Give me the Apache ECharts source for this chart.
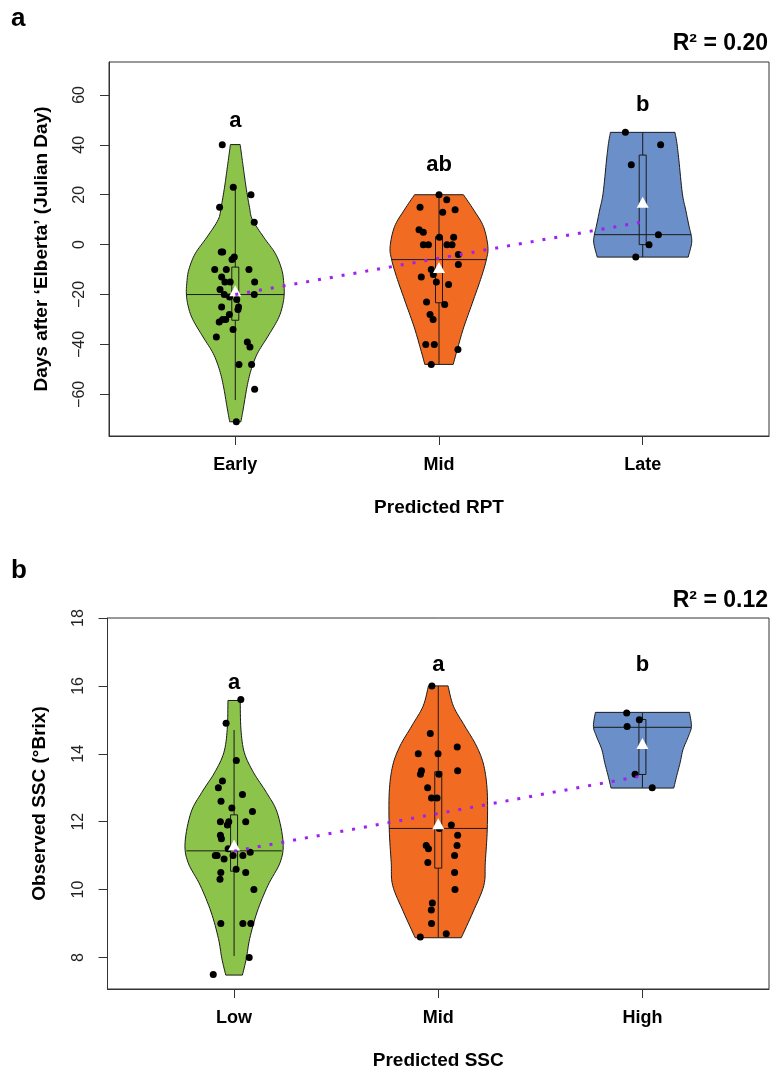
<!DOCTYPE html>
<html>
<head>
<meta charset="utf-8">
<script src="https://cdn.jsdelivr.net/npm/echarts@6/dist/echarts.min.js"></script>
<style>
  html, body { margin: 0; padding: 0; background: #fff; }
  #main { width: 771px; height: 1071px; }
</style>
</head>
<body>
<div id="main"></div>
<script>
// ---- panel a : Predicted RPT ----
var catsA = ['Early', 'Mid', 'Late'];
var ticksA = [-60, -40, -20, 0, 20, 40, 60];

var earlyVals = [40, 23, 20, 15, 9, -3, -3, -6, -5, -10, -10, -10, -13, -15, -15, -15, -18, -20, -21, -20, -22, -25, -25, -26, -28, -30, -30, -31, -34, -37, -39, -41, -48, -48, -58, -71];
var earlyJit = [-0.064, -0.010, 0.077, -0.077, 0.093, -0.069, -0.062, -0.016, -0.005, -0.101, -0.044, 0.067, -0.067, -0.051, -0.025, 0.095, -0.075, -0.054, -0.028, 0.093, 0.007, -0.067, 0.016, 0.013, -0.029, -0.047, -0.062, -0.079, -0.011, -0.093, 0.059, 0.072, 0.018, 0.080, 0.095, 0.005];
var midAVals = [20, 18, 15, 14, 13, 6, 5, 3, 3, 0, 0, 0, 0, -4, -8, -10, -12, -13, -15, -16, -23, -24, -28, -30, -40, -40, -42, -48];
var midAJit = [0, 0.038, -0.093, 0.079, 0.018, -0.098, -0.077, 0.002, 0.072, -0.077, -0.052, 0.039, 0.064, 0.095, 0.095, -0.038, -0.028, -0.087, -0.013, 0.047, -0.061, 0.028, -0.044, -0.029, -0.065, -0.023, 0.093, -0.038];
var lateVals = [45, 40, 32, 4, 0, -5];
var lateJit = [-0.085, 0.088, -0.056, 0.077, 0.031, -0.034];

// violin outlines: value levels and relative density (1 = widest)
var earlyDensV = [40.1, 35, 30, 23, 15, 10, 3, -3.6, -10, -15, -20, -25, -30, -37, -43.7, -50.4, -57, -65, -71];
var earlyDensW = [0.10, 0.135, 0.17, 0.22, 0.29, 0.35, 0.58, 0.82, 0.95, 0.99, 1.0, 0.96, 0.87, 0.66, 0.45, 0.32, 0.24, 0.17, 0.115];
var midADensV = [20, 13.9, 7.2, -0.8, -5.9, -12.8, -23.5, -32.9, -40.9, -48];
var midADensW = [0.50, 0.71, 0.91, 1.0, 0.97, 0.87, 0.68, 0.51, 0.39, 0.29];
var lateDensV = [45, 40.6, 33.9, 20.6, 13.9, 7.2, 3.9, 0.5, -5];
var lateDensW = [0.66, 0.70, 0.74, 0.81, 0.88, 0.95, 0.99, 1.0, 0.93];

var aMed = [-20, -6, 4];
var aQ1 = [-30.3, -23.3, 0];
var aQ3 = [-9, 3.2, 35.9];
var aLo = [-62.3, -48, -5];
var aHi = [23.2, 20, 45];
var aMean = [-18.5, -9.2, 17];
var aLetters = ['a', 'ab', 'b'];
var aLetterY = [49.5, 32, 56];
var aReg = [-20, 9.1];

// ---- panel b : Predicted SSC ----
var catsB = ['Low', 'Mid', 'High'];
var ticksB = [8, 10, 12, 14, 16, 18];

var lowVals = [15.6, 14.9, 13.8, 13.2, 13.0, 12.8, 12.6, 12.4, 12.3, 12.0, 11.9, 12.0, 12.0, 11.6, 11.5, 11.2, 11.1, 11.0, 11.0, 10.9, 11.0, 11.0, 10.5, 10.6, 10.5, 10.3, 10.0, 9.0, 9.0, 9.0, 8.0, 7.5];
var lowJit = [0.033, -0.039, 0.011, -0.057, -0.077, 0.041, -0.064, -0.011, 0.090, -0.067, -0.033, -0.026, 0.057, -0.067, -0.062, -0.029, 0.079, -0.092, -0.083, -0.049, -0.005, 0.043, -0.065, 0.010, 0.057, -0.069, 0.097, -0.065, 0.043, 0.082, 0.074, -0.102];
var midBVals = [16.0, 14.6, 14.0, 14.0, 14.2, 13.5, 13.4, 13.4, 13.5, 13.0, 12.7, 12.7, 11.9, 11.8, 11.6, 11.3, 11.2, 11.3, 11.0, 10.8, 10.5, 10.0, 9.6, 9.4, 9.0, 8.7, 8.6];
var midBJit = [-0.031, -0.039, -0.098, -0.001, 0.093, -0.082, -0.087, 0.003, 0.095, -0.052, -0.033, -0.006, 0.064, 0.005, 0.095, -0.059, -0.048, 0.092, 0.080, -0.051, 0.080, 0.082, -0.029, -0.034, -0.033, 0.039, -0.088];
var highVals = [15.2, 15.0, 14.8, 13.4, 13.0];
var highJit = [-0.077, -0.015, -0.075, -0.036, 0.048];

var lowDensV = [15.57, 14.72, 14.03, 13.44, 12.86, 12.27, 11.39, 10.80, 10.12, 9.34, 8.56, 7.97, 7.48];
var lowDensW = [0.125, 0.14, 0.21, 0.40, 0.66, 0.88, 1.0, 0.94, 0.69, 0.47, 0.32, 0.25, 0.17];
var midBDensV = [16, 15.4, 14.82, 14.23, 13.65, 12.87, 11.78, 10.80, 10.12, 9.34, 8.58];
var midBDensW = [0.20, 0.31, 0.54, 0.78, 0.93, 1.0, 1.0, 0.96, 0.93, 0.71, 0.47];
var highDensV = [15.22, 14.81, 14.52, 14.13, 13.74, 13.35, 12.99];
var highDensW = [0.96, 1.0, 0.94, 0.83, 0.77, 0.70, 0.64];

var bMed = [11.14, 11.8, 14.78];
var bQ1 = [10.54, 10.63, 13.39];
var bQ3 = [12.2, 13.47, 15.01];
var bLo = [8.04, 8.6, 13.0];
var bHi = [14.7, 16.0, 15.2];
var bMean = [11.31, 11.94, 14.3];
var bLetters = ['a', 'a', 'b'];
var bLetterY = [16.1, 16.62, 16.62];
var bReg = [11.13, 13.35];

var fillColors = ['#8CC34B', '#F26B23', '#6A8FC9'];
var HALF = 0.24;   // widest violin half-width, x units
var BOXW = 7;      // box width, px
var FONT = '"Liberation Sans", Arial, sans-serif';

function toPoints(vals, jit, g) {
  var out = [];
  for (var k = 0; k < vals.length; k++) out.push([g + jit[k], vals[k]]);
  return out;
}

// catmull-rom through the outline knots
function smoothLine(pts) {
  var out = [];
  var n = pts.length;
  for (var k = 0; k < n - 1; k++) {
    var p0 = pts[Math.max(k - 1, 0)], p1 = pts[k], p2 = pts[k + 1], p3 = pts[Math.min(k + 2, n - 1)];
    for (var s = 0; s < 8; s++) {
      var t = s / 8, t2 = t * t, t3 = t2 * t;
      out.push([
        0.5 * (2 * p1[0] + (-p0[0] + p2[0]) * t + (2 * p0[0] - 5 * p1[0] + 4 * p2[0] - p3[0]) * t2 + (-p0[0] + 3 * p1[0] - 3 * p2[0] + p3[0]) * t3),
        0.5 * (2 * p1[1] + (-p0[1] + p2[1]) * t + (2 * p0[1] - 5 * p1[1] + 4 * p2[1] - p3[1]) * t2 + (-p0[1] + 3 * p1[1] - 3 * p2[1] + p3[1]) * t3)
      ]);
    }
  }
  out.push(pts[n - 1]);
  return out;
}

function widthAt(dv, dw, v) {
  for (var k = 0; k < dv.length - 1; k++) {
    if (v <= dv[k] && v >= dv[k + 1]) {
      var f = (dv[k] - v) / (dv[k] - dv[k + 1]);
      return dw[k] + f * (dw[k + 1] - dw[k]);
    }
  }
  return dw[dw.length - 1];
}

function violinRender(p) {
  return function (params, api) {
    var g = api.value(0), i = g - 1;
    var dv = p.dens[i][0], dw = p.dens[i][1];
    var right = [], left = [];
    for (var k = 0; k < dv.length; k++) {
      right.push(api.coord([g + dw[k] * HALF, dv[k]]));
      left.push(api.coord([g - dw[k] * HALF, dv[k]]));
    }
    var outline = smoothLine(right).concat(smoothLine(left).reverse());
    var mw = widthAt(dv, dw, p.med[i]) * HALF;
    var mL = api.coord([g - mw, p.med[i]]), mR = api.coord([g + mw, p.med[i]]);
    var top = api.coord([g, p.hi[i]]), bot = api.coord([g, p.lo[i]]);
    var q3 = api.coord([g, p.q3[i]]), q1 = api.coord([g, p.q1[i]]);
    var ink = { stroke: '#1a1a1a', lineWidth: 1 };
    return {
      type: 'group',
      children: [
        { type: 'polygon', shape: { points: outline }, style: { fill: fillColors[i], stroke: '#1a1a1a', lineWidth: 1 } },
        { type: 'line', shape: { x1: top[0], y1: top[1], x2: bot[0], y2: bot[1] }, style: ink },
        { type: 'rect', shape: { x: q3[0] - BOXW / 2, y: q3[1], width: BOXW, height: q1[1] - q3[1] }, style: { fill: fillColors[i], stroke: '#1a1a1a', lineWidth: 1 } },
        { type: 'line', shape: { x1: mL[0], y1: mL[1], x2: mR[0], y2: mR[1] }, style: ink }
      ]
    };
  };
}

function xAxisOpt(idx, cats, name) {
  return {
    gridIndex: idx, type: 'value', min: 0.38, max: 3.62,
    splitLine: { show: false },
    axisLine: { onZero: false, lineStyle: { color: '#333', width: 1 } },
    axisTick: { customValues: [1, 2, 3], length: 9, lineStyle: { color: '#333' } },
    axisLabel: {
      customValues: [1, 2, 3], margin: 20, fontSize: 18, fontWeight: 'bold', color: '#000', fontFamily: FONT,
      formatter: function (v) { return cats[Math.round(v) - 1]; }
    },
    name: name, nameLocation: 'middle', nameGap: 62,
    nameTextStyle: { fontSize: 19, fontWeight: 'bold', color: '#000', fontFamily: FONT }
  };
}

function yAxisOpt(idx, min, max, ticks, name) {
  return {
    gridIndex: idx, type: 'value', min: min, max: max,
    splitLine: { show: false },
    axisLine: { show: true, onZero: false, lineStyle: { color: '#333', width: 1 } },
    axisTick: { show: true, customValues: ticks, length: 9, lineStyle: { color: '#333' } },
    axisLabel: {
      customValues: ticks, rotate: 90, margin: 21, fontSize: 16, color: '#222', fontFamily: FONT,
      formatter: function (v) { return v < 0 ? '\u2212' + Math.abs(v) : String(v); }
    },
    name: name, nameLocation: 'middle', nameGap: 58,
    nameTextStyle: { fontSize: 19, fontWeight: 'bold', color: '#000', fontFamily: FONT }
  };
}

function panelSeries(idx, p) {
  var pts = [];
  for (var g = 0; g < 3; g++) pts = pts.concat(toPoints(p.vals[g], p.jit[g], g + 1));
  var means = [], letters = [];
  for (var k = 0; k < 3; k++) {
    means.push([k + 1, p.mean[k]]);
    letters.push([k + 1, p.letterY[k], p.letters[k]]);
  }
  return [
    { type: 'custom', xAxisIndex: idx, yAxisIndex: idx, data: [[1], [2], [3]], renderItem: violinRender(p), z: 2, silent: true },
    { type: 'scatter', xAxisIndex: idx, yAxisIndex: idx, data: pts, symbolSize: 7, itemStyle: { color: '#000', opacity: 1 }, z: 3, silent: true },
    { type: 'scatter', xAxisIndex: idx, yAxisIndex: idx, data: means, symbol: 'triangle', symbolSize: [12, 11], itemStyle: { color: '#fff', opacity: 1 }, z: 4, silent: true },
    {
      type: 'line', xAxisIndex: idx, yAxisIndex: idx, data: [[1, p.reg[0]], [3, p.reg[1]]], symbol: 'none', z: 5, silent: true,
      lineStyle: { color: '#A020F0', width: 3, type: [3, 9], cap: 'butt' }
    },
    {
      type: 'scatter', xAxisIndex: idx, yAxisIndex: idx, data: letters, symbolSize: 1, itemStyle: { color: 'transparent', opacity: 1 }, z: 5, silent: true,
      label: {
        show: true, position: 'inside', fontSize: 22, fontWeight: 'bold', color: '#000', fontFamily: FONT,
        formatter: function (d) { return d.value[2]; }
      }
    }
  ];
}

var panelA = {
  vals: [earlyVals, midAVals, lateVals], jit: [earlyJit, midAJit, lateJit],
  dens: [[earlyDensV, earlyDensW], [midADensV, midADensW], [lateDensV, lateDensW]],
  med: aMed, q1: aQ1, q3: aQ3, lo: aLo, hi: aHi, mean: aMean,
  letters: aLetters, letterY: aLetterY, reg: aReg
};
var panelB = {
  vals: [lowVals, midBVals, highVals], jit: [lowJit, midBJit, highJit],
  dens: [[lowDensV, lowDensW], [midBDensV, midBDensW], [highDensV, highDensW]],
  med: bMed, q1: bQ1, q3: bQ3, lo: bLo, hi: bHi, mean: bMean,
  letters: bLetters, letterY: bLetterY, reg: bReg
};

var chart = echarts.init(document.getElementById('main'));
var option = {
  animation: false,
  backgroundColor: '#fff',
  grid: [
    { left: 109, top: 62, width: 660, height: 374, show: true, borderColor: '#333', borderWidth: 1 },
    { left: 107.5, top: 618, width: 661.5, height: 372.7, show: true, borderColor: '#333', borderWidth: 1 }
  ],
  xAxis: [
    xAxisOpt(0, catsA, 'Predicted RPT'),
    xAxisOpt(1, catsB, 'Predicted SSC')
  ],
  yAxis: [
    yAxisOpt(0, -76.7, 73.2, ticksA, 'Days after \u2018Elberta\u2019 (Julian Day)'),
    yAxisOpt(1, 7.07, 18, ticksB, 'Observed SSC (\u00B0Brix)')
  ],
  graphic: [
    { type: 'text', left: 11, top: 6, style: { text: 'a', font: 'bold 26px ' + FONT, fill: '#000' } },
    { type: 'text', left: 11, top: 558, style: { text: 'b', font: 'bold 26px ' + FONT, fill: '#000' } },
    { type: 'text', right: 3, top: 32, style: { text: 'R\u00B2 = 0.20', font: 'bold 23px ' + FONT, fill: '#000' } },
    { type: 'text', right: 3, top: 589, style: { text: 'R\u00B2 = 0.12', font: 'bold 23px ' + FONT, fill: '#000' } }
  ],
  series: panelSeries(0, panelA).concat(panelSeries(1, panelB))
};
chart.setOption(option);
window.addEventListener('resize', function () { chart.resize(); });
</script>
</body>
</html>
